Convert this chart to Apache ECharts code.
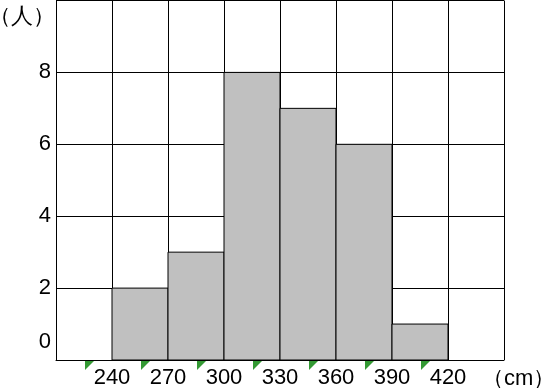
<!DOCTYPE html>
<html><head><meta charset="utf-8">
<script src="https://cdn.jsdelivr.net/npm/echarts@6/dist/echarts.min.js"></script>
<style>html,body{margin:0;padding:0;background:#fff}#c{width:543px;height:388px}</style>
</head><body><div id="c"></div>
<script>
var binStarts = [240, 270, 300, 330, 360, 390];
var binWidth = 30;
var counts = [2, 3, 8, 7, 6, 1];
var xTicks = [240, 270, 300, 330, 360, 390, 420];
var yTicks = [0, 2, 4, 6, 8];
var xMin = 210, xMax = 450, yMin = 0, yMax = 10;
var xUnit = '（cm）', yUnit = '（人）';

var FONT = 'Liberation Sans, Arial, sans-serif';
var FS = 22;
var chart = echarts.init(document.getElementById('c'), null, {renderer: 'canvas'});
var barData = binStarts.map(function (s, i) { return [s, s + binWidth, counts[i]]; });
chart.setOption({
  animation: false,
  backgroundColor: '#fff',
  grid: {left: 56, right: 39, top: 0.5, bottom: 28, containLabel: false, outerBoundsMode: 'none'},
  xAxis: {
    type: 'value', min: xMin, max: xMax, interval: binWidth,
    axisLine: {show: true, lineStyle: {color: '#000', width: 1}},
    axisTick: {show: false},
    splitLine: {show: true, lineStyle: {color: '#000', width: 1}},
    axisLabel: {
      margin: 7, color: '#000', fontSize: FS, fontFamily: FONT,
      formatter: function (v) { return xTicks.indexOf(v) >= 0 ? String(v) : ''; }
    },
    name: xUnit, nameLocation: 'end', nameGap: 0,
    nameTextStyle: {color: '#000', fontSize: FS, fontFamily: FONT, align: 'left', verticalAlign: 'top', padding: [8, 0, 0, -22]}
  },
  yAxis: {
    type: 'value', min: yMin, max: yMax, interval: 2,
    axisLine: {show: true, lineStyle: {color: '#000', width: 1}},
    axisTick: {show: false},
    splitLine: {show: true, lineStyle: {color: '#000', width: 1}},
    axisLabel: {
      margin: 5, color: '#000', fontSize: FS, fontFamily: FONT,
      formatter: function (v) {
        if (yTicks.indexOf(v) < 0) return '';
        return v === 0 ? '{z|0}' : String(v);
      },
      rich: {z: {color: '#000', fontSize: FS, fontFamily: FONT, padding: [0, 0, 36, 0]}}
    }
  },
  graphic: [{
    type: 'text', left: -11, top: 6,
    style: {text: yUnit, fill: '#000', font: FS + 'px ' + FONT}
  }],
  series: [{
    type: 'custom',
    data: barData,
    encode: {x: [0, 1], y: 2},
    renderItem: function (params, api) {
      var p0 = api.coord([api.value(0), api.value(2)]);
      var p1 = api.coord([api.value(1), 0]);
      return {
        type: 'rect',
        shape: {x: p0[0], y: p0[1], width: p1[0] - p0[0], height: p1[1] - p0[1]},
        style: {fill: '#c0c0c0', stroke: '#000', lineWidth: 1}
      };
    }
  }, {
    type: 'scatter',
    clip: false,
    data: xTicks.map(function (t) { return [t, 0]; }),
    symbol: 'path://M0,0 L10,0 L0,10 Z',
    symbolSize: 9,
    symbolOffset: [-22.5, 5.5],
    itemStyle: {color: '#008000'},
    silent: true
  }]
});
</script></body></html>
